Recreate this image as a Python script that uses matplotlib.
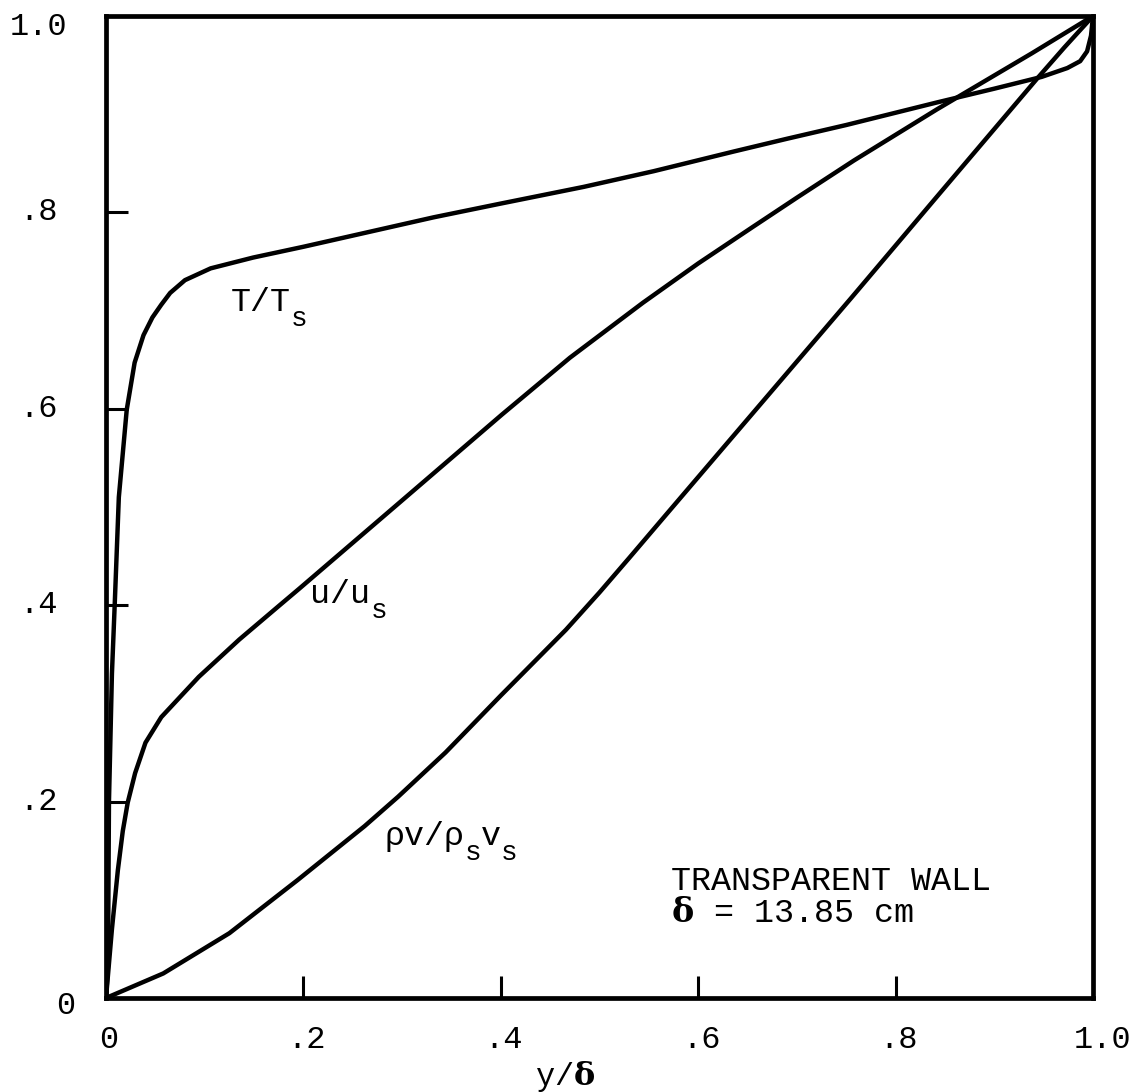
import matplotlib
matplotlib.use("Agg")
import matplotlib.pyplot as plt
from matplotlib.transforms import offset_copy

plt.rcParams['mathtext.fontset'] = 'custom'
plt.rcParams['mathtext.rm'] = 'Liberation Mono'
plt.rcParams['mathtext.bf'] = 'DejaVu Serif:bold'
plt.rcParams['mathtext.it'] = 'Liberation Mono'

# ---- data ----
T_x = [0.0, 0.002, 0.003, 0.006, 0.009, 0.013, 0.021, 0.029, 0.038, 0.047, 0.056, 0.065,
       0.080, 0.106, 0.149, 0.200, 0.332, 0.400, 0.484, 0.555, 0.636, 0.690, 0.750,
       0.842, 0.900, 0.948, 0.974, 0.987, 0.994, 0.998, 1.0]
T_y = [0.0, 0.032, 0.2, 0.33, 0.405, 0.510, 0.599, 0.647, 0.675, 0.693, 0.706, 0.718,
       0.731, 0.743, 0.754, 0.765, 0.795, 0.809, 0.826, 0.842, 0.862, 0.875, 0.889,
       0.912, 0.926, 0.938, 0.947, 0.954, 0.964, 0.980, 1.0]

u_x = [0.0, 0.006, 0.012, 0.017, 0.022, 0.0295, 0.040, 0.056, 0.094, 0.135, 0.176,
       0.196, 0.298, 0.401, 0.470, 0.544, 0.600, 0.655, 0.700, 0.758, 0.842, 0.938, 1.0]
u_y = [0.0, 0.07, 0.13, 0.17, 0.199, 0.229, 0.260, 0.286, 0.327, 0.365, 0.400,
       0.417, 0.505, 0.594, 0.652, 0.708, 0.748, 0.785, 0.815, 0.853, 0.905, 0.962, 1.0]

rv_x = [0.0, 0.058, 0.125, 0.194, 0.262, 0.296, 0.344, 0.400, 0.466, 0.500, 0.530,
        0.569, 0.620, 0.654, 0.705, 0.756, 0.841, 0.944, 0.971, 1.0]
rv_y = [0.0, 0.025, 0.066, 0.120, 0.175, 0.205, 0.250, 0.308, 0.375, 0.413, 0.448,
        0.494, 0.554, 0.594, 0.654, 0.714, 0.815, 0.937, 0.968, 1.0]

tick_vals = [0.2, 0.4, 0.6, 0.8]
x_tick_labels = ['0', '.2', '.4', '.6', '.8', '1.0']
y_tick_labels = ['0', '.2', '.4', '.6', '.8', '1.0']
label_vals = [0.0, 0.2, 0.4, 0.6, 0.8, 1.0]

W, H = 1138, 1092
DPI = 100
fig = plt.figure(figsize=(W / DPI, H / DPI), dpi=DPI)
ax = fig.add_axes([106 / W, 94 / H, 987 / W, 982 / H])

lw = 3.2
for xs, ys in [(T_x, T_y), (u_x, u_y), (rv_x, rv_y)]:
    ax.plot(xs, ys, color='black', lw=lw, solid_capstyle='round', solid_joinstyle='round')

ax.set_xlim(0, 1)
ax.set_ylim(0, 1)
for s in ax.spines.values():
    s.set_linewidth(3.4)
    s.set_color('black')
ax.set_xticks(tick_vals)
ax.set_yticks(tick_vals)
ax.tick_params(direction='in', length=16, width=2.2, color='black',
               labelleft=False, labelbottom=False, top=False, right=False)

tfont = dict(family='Liberation Mono', fontsize=23, color='black')
# y tick labels
for v, lab in zip(label_vals, y_tick_labels):
    if lab == '0':
        ax.text(-0.0405, -0.008, lab, ha='center', va='center', transform=ax.transAxes, **tfont)
    elif lab == '1.0':
        ax.text(-0.068, 0.989, lab, ha='center', va='center', transform=ax.transAxes, **tfont)
    else:
        ax.text(-0.068, v, lab, ha='center', va='center', transform=ax.transAxes, **tfont)
# x tick labels
for v, lab in zip(label_vals, x_tick_labels):
    xp = v + 0.003
    if lab == '1.0':
        xp = 1.010
    ax.text(xp, -0.043, lab, ha='center', va='center', transform=ax.transAxes, **tfont)

ax.text(0.465, -0.080, r'y/$\mathbf{\delta}$', ha='center', va='center',
        transform=ax.transAxes, **tfont)

renderer = fig.canvas.get_renderer()


def typed(x, y, parts, size=24, subsize=20, drop=15):
    """Typewriter-style label: parts is a list of (string, is_subscript)."""
    dx = 0.0
    for txt, sub in parts:
        tr = offset_copy(ax.transData, fig=fig, x=dx, y=(-drop if sub else 0), units='dots')
        t = ax.text(x, y, txt, transform=tr, ha='left', va='baseline',
                    family='Liberation Mono', fontsize=(subsize if sub else size), color='black')
        dx += t.get_window_extent(renderer).width


typed(0.126, 0.70, [('T/T', False), ('s', True)])
typed(0.207, 0.402, [('u/u', False), ('s', True)])
typed(0.282, 0.156, [('ρv/ρ', False), ('s', True), ('v', False), ('s', True)])

lfont = dict(family='Liberation Mono', fontsize=24, color='black')
ax.text(0.572, 0.110, 'TRANSPARENT WALL', ha='left', va='baseline', **lfont)
ax.text(0.572, 0.077, r'$\mathbf{\delta}$ = 13.85 cm', ha='left', va='baseline', **lfont)

fig.savefig('out.png', dpi=DPI, facecolor='white')
